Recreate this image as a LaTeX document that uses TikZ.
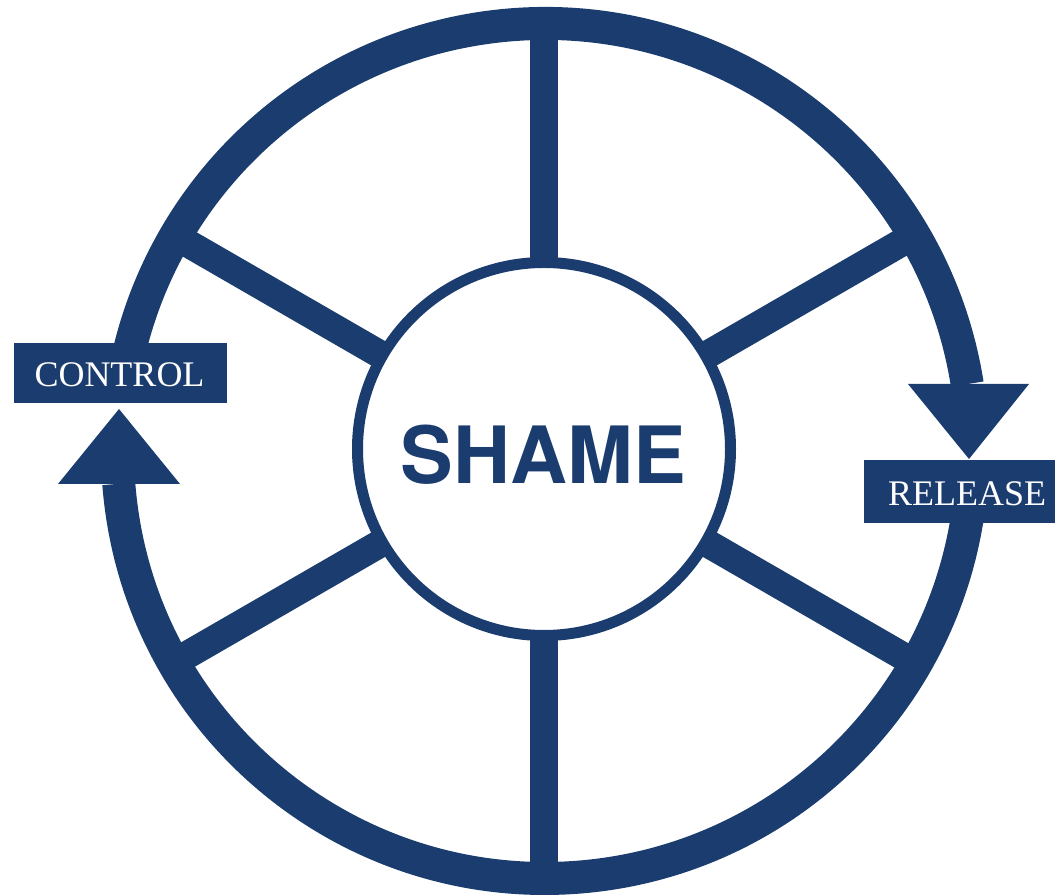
\documentclass[tikz,border=0pt]{standalone}
\usepackage{fontspec}
\setmainfont{Liberation Serif}
\newfontfamily\shamefont{TeX Gyre Heros}
\definecolor{navy}{RGB}{26,60,110}
\begin{document}
\begin{tikzpicture}[x=1pt,y=1pt,
  ring/.style={draw=navy,line width=33pt,line cap=butt},
  spoke/.style={draw=navy,line width=28pt,line cap=butt},
  label/.style={fill=navy},
  labeltext/.style={text=white,inner sep=0pt,anchor=base,font=\fontsize{36}{36}\selectfont},
  head/.style={fill=navy}]
\useasboundingbox (0,0) rectangle (1055,896);
\coordinate (c) at (545,445);
\coordinate (ci) at (544,447);
% spokes
\foreach \a in {90,30,-30,-90,150,210}
  \draw[spoke] (ci) ++(\a:180) -- ++(\a:242);
% outer ring
\draw[ring] (c) ++(9:427.5) arc[start angle=9,end angle=168,radius=427.5];
\draw[ring] (c) ++(184.4:427.5) arc[start angle=184.4,end angle=355,radius=427.5];
% arrow heads
\fill[head] (58,412) -- (180,412) -- (119,487) -- cycle;
\fill[head] (908,512) -- (1029,512) -- (969,437) -- cycle;
% inner circle
\draw[navy,line width=11pt,fill=white] (ci) circle[radius=186.5];
\node[text=navy,inner sep=0pt,anchor=base,font=\shamefont\bfseries\fontsize{79}{79}\selectfont] (shame) at (543.5,412) {SHAME};
% labels
\fill[label] (14,493) rectangle (227,553);
\node[labeltext] (control) at (119.5,509) {CONTROL};
\fill[label] (864,373) rectangle (1055,436);
\node[labeltext] (release) at (967,390.3) {RELEASE};
\end{tikzpicture}
\end{document}
